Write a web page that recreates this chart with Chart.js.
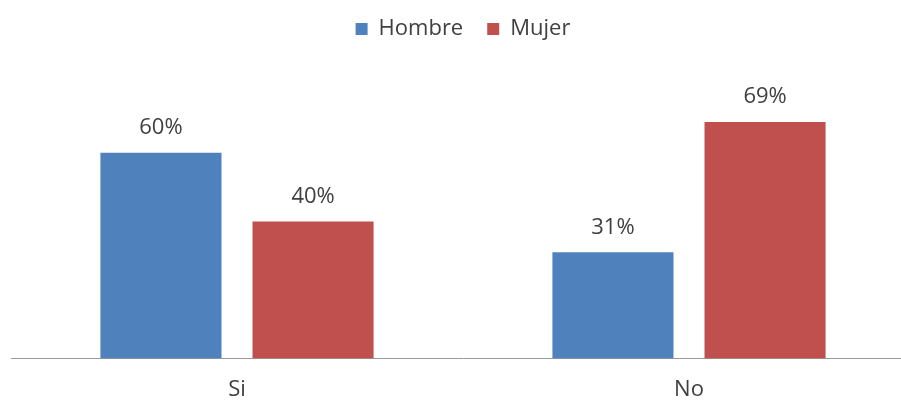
<!DOCTYPE html>
<html>
<head>
<meta charset="utf-8">
<script src="https://cdn.jsdelivr.net/npm/chart.js@4.4.0/dist/chart.umd.min.js"></script>
<style>
    html, body { margin: 0; padding: 0; background: #fff; overflow: hidden; }
    #wrap { position: relative; width: 926px; height: 405px; }
</style>
</head>
<body>
<div id="wrap"><canvas id="chart"></canvas></div>
<script>
// Datos del gráfico
const categorias = ['Si', 'No'];
const valoresHombre = [60, 31];
const valoresMujer = [40, 69];
const ejeMax = 90;

const FUENTE = "'Open Sans', 'Noto Sans', sans-serif";

// Etiquetas de porcentaje encima de cada barra
const etiquetasPlugin = {
    id: 'etiquetas',
    afterDatasetsDraw(chart) {
        const ctx = chart.ctx;
        ctx.save();
        ctx.font = '22px ' + FUENTE;
        ctx.fillStyle = '#404040';
        ctx.textAlign = 'center';
        ctx.textBaseline = 'middle';
        chart.data.datasets.forEach((ds, i) => {
            chart.getDatasetMeta(i).data.forEach((bar, j) => {
                ctx.fillText(ds.data[j] + '%', bar.x, bar.y - 25);
            });
        });
        ctx.restore();
    }
};

new Chart(document.getElementById('chart').getContext('2d'), {
    type: 'bar',
    data: {
        labels: categorias,
        datasets: [
            {
                label: 'Hombre',
                data: valoresHombre,
                backgroundColor: '#4F81BD',
                categoryPercentage: 0.673,
                barPercentage: 0.796
            },
            {
                label: 'Mujer',
                data: valoresMujer,
                backgroundColor: '#C0504D',
                categoryPercentage: 0.673,
                barPercentage: 0.796
            }
        ]
    },
    options: {
        responsive: true,
        maintainAspectRatio: false,
        animation: false,
        layout: { padding: { left: 11, right: 11, top: -6, bottom: -16 } },
        scales: {
            y: {
                display: false,
                min: 0,
                max: ejeMax
            },
            x: {
                grid: { display: false, drawTicks: false },
                border: { display: true, color: '#9a9a9a', width: 1 },
                ticks: {
                    color: '#404040',
                    padding: 18,
                    font: { family: FUENTE, size: 22 }
                }
            }
        },
        plugins: {
            legend: {
                position: 'top',
                labels: {
                    boxWidth: 12,
                    boxHeight: 12,
                    color: '#404040',
                    padding: 24,
                    font: { family: FUENTE, size: 22 }
                }
            },
            tooltip: { enabled: false }
        }
    },
    plugins: [etiquetasPlugin]
});
</script>
</body>
</html>
